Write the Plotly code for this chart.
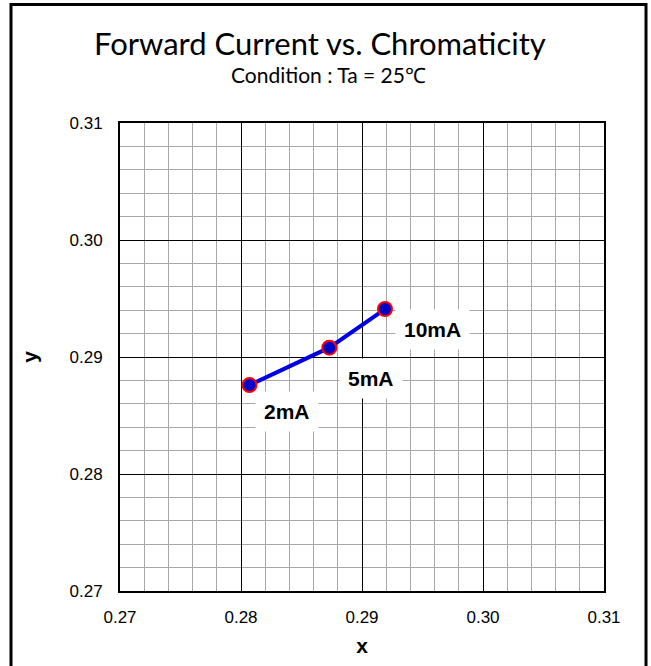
import plotly.graph_objects as go

# Data
x_vals = [0.2807, 0.2873, 0.2919]
y_vals = [0.2876, 0.2908, 0.2941]
labels = ["2mA", "5mA", "10mA"]
tick_vals = [0.27, 0.28, 0.29, 0.30, 0.31]
tick_text = ["0.27", "0.28", "0.29", "0.30", "0.31"]

title_text = "Forward Current vs. Chromaticity"
subtitle_text = "Condition : Ta = 25℃"

fig = go.Figure()
fig.add_trace(go.Scatter(
    x=x_vals, y=y_vals, mode="lines+markers",
    line=dict(color="#0000e0", width=4),
    marker=dict(size=14, color="#0000c8", line=dict(color="#ff0000", width=2)),
    showlegend=False, hoverinfo="skip",
))

shifts = [(38, -26), (42, -31), (48, -20)]
for xv, yv, lab, (dx, dy) in zip(x_vals, y_vals, labels, shifts):
    fig.add_annotation(
        x=xv, y=yv, text="<b>" + lab + "</b>", showarrow=False,
        xshift=dx, yshift=dy, bgcolor="white", borderpad=8,
        font=dict(family="Liberation Sans, Arial", size=21, color="black"),
    )

axis_common = dict(
    range=[0.27, 0.31], tickvals=tick_vals, ticktext=tick_text,
    showgrid=True, gridcolor="black", gridwidth=1,
    minor=dict(dtick=0.002, showgrid=True, gridcolor="#a8a8a8", gridwidth=1),
    showline=True, mirror=True, linecolor="black", linewidth=2,
    ticks="", zeroline=False,
    tickfont=dict(family="Liberation Sans, Arial", size=17, color="black"),
)

fig.update_layout(
    width=651, height=666,
    margin=dict(l=120, r=47, t=123, b=73),
    paper_bgcolor="white", plot_bgcolor="white",
    xaxis=dict(**axis_common, ticklabelstandoff=10,
               title=dict(text="<b>x</b>", standoff=12,
                          font=dict(family="Liberation Sans, Arial", size=21, color="black"))),
    yaxis=dict(**axis_common, ticklabelstandoff=12,
               title=dict(text="<b>y</b>", standoff=26,
                          font=dict(family="Liberation Sans, Arial", size=21, color="black"))),
)

# Title and subtitle above the plot
fig.add_annotation(x=0.413, y=1.17, xref="paper", yref="paper",
                   text=title_text, showarrow=False, xanchor="center", yanchor="middle",
                   font=dict(family="Lato", size=31, color="black"))
fig.add_annotation(x=0.4318, y=1.104, xref="paper", yref="paper",
                   text=subtitle_text, showarrow=False, xanchor="center", yanchor="middle",
                   font=dict(family="Lato", size=21, color="black"))

# Outer frame
fig.add_shape(type="rect", xref="paper", yref="paper",
              x0=-0.2252, x1=1.0868, y0=-0.17, y1=1.2532,
              line=dict(color="black", width=3), fillcolor="rgba(0,0,0,0)", layer="above")

fig.write_html("out.html", config={"displayModeBar": False},
               post_script="document.body.style.margin='0';")
